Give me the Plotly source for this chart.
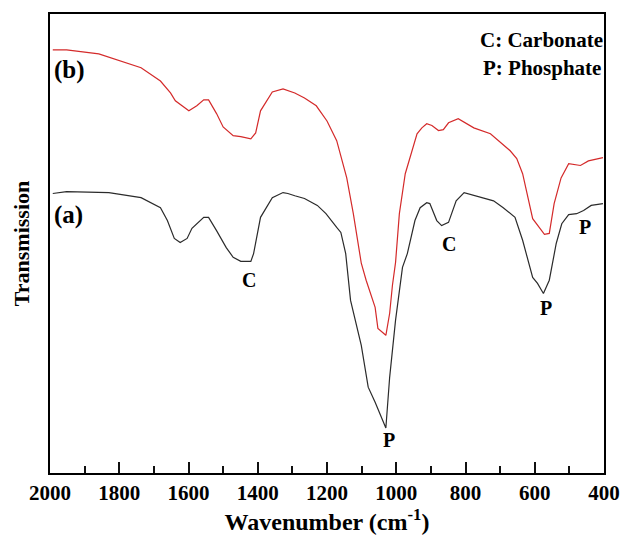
import plotly.graph_objects as go

# Wavenumber (cm^-1) and transmission (arbitrary units) for sample (a)
wn_a = [1992, 1952, 1830, 1737, 1681, 1661, 1641, 1624, 1604, 1590, 1556, 1542,
        1519, 1491, 1471, 1449, 1420, 1412, 1392, 1358, 1327, 1313, 1293, 1265,
        1228, 1203, 1172, 1160, 1146, 1139, 1132, 1101, 1081, 1061, 1030, 1019,
        1002, 982, 968, 946, 931, 912, 903, 883, 869, 849, 827, 804, 756, 719,
        691, 657, 635, 606, 592, 575, 558, 538, 522, 502, 479, 459, 437, 403]
t_a = [60.9, 61.3, 61.1, 60.0, 57.8, 55.0, 51.1, 50.2, 51.1, 53.3, 55.7, 55.7,
       52.8, 49.1, 47.0, 46.1, 46.1, 47.8, 55.7, 60.0, 61.1, 60.9, 60.4, 59.8,
       58.3, 56.5, 53.5, 52.4, 47.8, 42.0, 37.6, 27.8, 18.7, 15.4, 9.8, 20.9,
       33.3, 44.8, 47.8, 55.0, 57.8, 58.9, 58.7, 55.0, 53.9, 54.6, 59.3, 61.1,
       60.0, 59.3, 57.8, 55.7, 50.7, 42.6, 41.3, 39.1, 42.0, 50.0, 54.3, 56.3,
       56.5, 57.2, 58.3, 58.7]

# Sample (b)
wn_b = [1992, 1952, 1859, 1737, 1681, 1652, 1638, 1599, 1576, 1556, 1542, 1519,
        1500, 1471, 1449, 1420, 1406, 1392, 1358, 1327, 1293, 1265, 1231, 1200,
        1172, 1143, 1124, 1101, 1087, 1061, 1053, 1030, 1019, 1011, 1002, 991,
        974, 940, 926, 912, 897, 878, 864, 849, 821, 776, 728, 671, 652, 635,
        606, 572, 558, 544, 524, 502, 468, 445, 403]
t_b = [92.2, 92.2, 91.3, 88.3, 85.4, 82.8, 81.1, 78.9, 80.0, 81.3, 81.3, 78.3,
       75.4, 73.5, 73.3, 72.8, 74.1, 78.9, 83.0, 83.7, 82.8, 81.7, 80.0, 76.7,
       72.4, 64.3, 56.5, 45.7, 42.0, 36.1, 31.5, 30.0, 34.8, 40.9, 45.9, 56.5,
       65.2, 73.9, 75.2, 76.1, 75.7, 74.6, 74.8, 76.3, 77.2, 75.2, 73.9, 70.2,
       68.5, 65.2, 55.4, 52.0, 52.2, 58.7, 64.3, 67.4, 67.0, 68.0, 68.7]

# Peak labels
peak_text = ["C", "C", "P", "P", "P"]
peak_x = [1426, 849, 1022, 567, 454]
peak_y = [42.0, 50.0, 7.2, 36.0, 53.5]

SERIF = "Liberation Serif, Times New Roman, serif"

fig = go.Figure()
fig.add_trace(go.Scatter(x=wn_a, y=t_a, mode="lines",
                         line=dict(color="#2b2b2b", width=1.2), showlegend=False))
fig.add_trace(go.Scatter(x=wn_b, y=t_b, mode="lines",
                         line=dict(color="#d42a2a", width=1.2), showlegend=False))

annotations = []
for txt, xx, yy in zip(peak_text, peak_x, peak_y):
    annotations.append(dict(x=xx, y=yy, text=txt, showarrow=False,
                            font=dict(family=SERIF, size=20, color="black", weight="bold")))
annotations.append(dict(x=1993, y=87.8, text="(b)", showarrow=False, xanchor="left",
                        font=dict(family=SERIF, size=25, color="black", weight="bold")))
annotations.append(dict(x=1993, y=56.3, text="(a)", showarrow=False, xanchor="left",
                        font=dict(family=SERIF, size=25, color="black", weight="bold")))
annotations.append(dict(x=1.002, y=0.944, xref="paper", yref="paper", text="C: Carbonate",
                        showarrow=False, xanchor="right", yanchor="middle",
                        font=dict(family=SERIF, size=21, color="black", weight="bold")))
annotations.append(dict(x=0.999, y=0.882, xref="paper", yref="paper", text="P: Phosphate",
                        showarrow=False, xanchor="right", yanchor="middle",
                        font=dict(family=SERIF, size=21, color="black", weight="bold")))

fig.update_layout(
    width=632, height=539,
    margin=dict(l=50, r=16, t=13, b=66),
    paper_bgcolor="white", plot_bgcolor="white",
    font=dict(family=SERIF, color="black"),
    annotations=annotations,
    xaxis=dict(
        range=[2000, 400], autorange=False,
        tickmode="linear", tick0=0, dtick=200,
        ticks="inside", ticklen=11, tickwidth=2, tickcolor="#111111",
        minor=dict(ticks="inside", ticklen=7, tickwidth=2, tickcolor="#111111", dtick=100),
        showline=True, linecolor="black", linewidth=2, mirror=True,
        showgrid=False, zeroline=False,
        tickfont=dict(family=SERIF, size=21, color="black", weight="bold"),
        title=dict(text="Wavenumber (cm<sup>-1</sup>)", standoff=4,
                   font=dict(family=SERIF, size=24, color="black", weight="bold")),
    ),
    yaxis=dict(
        range=[0, 100], autorange=False,
        showticklabels=False, ticks="",
        showline=True, linecolor="black", linewidth=2, mirror=True,
        showgrid=False, zeroline=False,
        title=dict(text="Transmission", standoff=12,
                   font=dict(family=SERIF, size=22, color="black", weight="bold")),
    ),
)

fig.write_html("out.html")
